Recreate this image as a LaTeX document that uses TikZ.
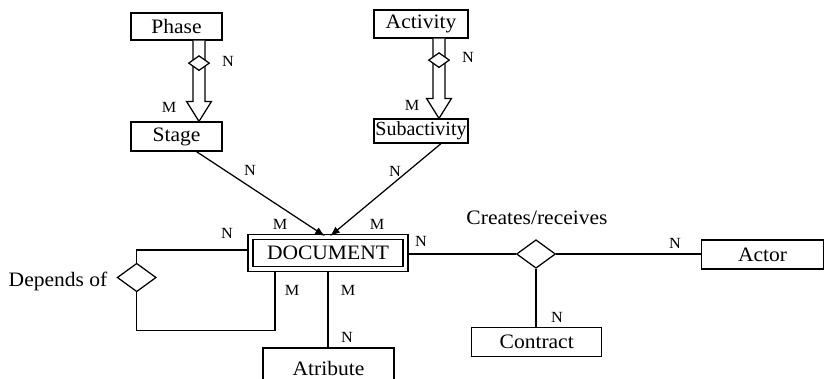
\documentclass[tikz,border=0pt]{standalone}
\usepackage{fontspec}
\setmainfont{Liberation Serif}[FakeStretch=1.05]
\newfontfamily\narrowserif{Liberation Serif}
\usetikzlibrary{shapes.geometric,arrows.meta,calc}
\begin{document}
\begin{tikzpicture}[x=1pt,y=-1pt,line width=1.25pt,
  ent/.style={draw,line width=1.25pt,inner sep=0pt,fill=white,font=\fontsize{20.5}{23}\selectfont},
  rel/.style={draw,diamond,fill=white,line width=1.25pt,inner sep=0pt},
  lbl/.style={inner sep=0pt,font=\fontsize{15.5}{17}\selectfont},
  side/.style={font=\fontsize{20.5}{23}\selectfont,inner sep=0pt},
  arr/.style={-{Latex[length=10pt,width=7.5pt]}},
  fat/.style={draw,fill=white,line width=1.25pt,line join=miter}]
\useasboundingbox (0,0) rectangle (825,378);
\clip (0,0) rectangle (825,378);

% entities
\node[ent,minimum width=91pt,minimum height=27pt] (phase) at (176.5,26.5) {Phase};
\node[ent,minimum width=91pt,minimum height=29pt] (stage) at (176.5,136.5) {Stage};
\node[ent,minimum width=94pt,minimum height=28pt] (activity) at (421,24) {Activity};
\node[ent,minimum width=94pt,minimum height=24pt,font=\narrowserif\fontsize{20}{22}\selectfont] (subact) at (421,131) {Subactivity};
\node[ent,minimum width=160pt,minimum height=36.5pt] (doc) at (328,253) {};
\node[ent,minimum width=150pt,minimum height=26.5pt] (docin) at (doc) {DOCUMENT};
\node[ent,minimum width=131pt,minimum height=40pt] (atr) at (328.5,368) {Atribute};
\node[ent,minimum width=130pt,minimum height=29pt] (contract) at (536.7,342.2) {Contract};
\node[ent,minimum width=121.5pt,minimum height=29pt] (actor) at (762.5,254.5) {Actor};

% relationships
\node[rel,minimum width=39pt,minimum height=28.5pt] (dep) at (136.7,277.5) {};
\node[rel,minimum width=39pt,minimum height=28.5pt] (cr) at (536,254) {};
\node[side,anchor=east] (deplbl) at (108,281) {Depends of};
\node[side] (crlbl) at (537,218) {Creates/receives};

% hollow arrows Phase->Stage and Activity->Subactivity
\path ($(phase.south)+(22.5,0)$) coordinate (pa) ($(stage.north)+(22.5,0)$) coordinate (pb);
\draw[fat] ($(pa)+(-6,0)$) -- ($(pb)+(-6,-20)$) -- ($(pb)+(-12.5,-20)$) -- (pb)
  -- ($(pb)+(12.5,-20)$) -- ($(pb)+(6,-20)$) -- ($(pa)+(6,0)$);
\node[rel,minimum width=21pt,minimum height=15pt] (pd) at ($(pa)+(0,22.5)$) {};
\path ($(activity.south)+(18,0)$) coordinate (aa) ($(subact.north)+(18,0)$) coordinate (ab);
\draw[fat] ($(aa)+(-6,0)$) -- ($(ab)+(-6,-20)$) -- ($(ab)+(-12.5,-20)$) -- (ab)
  -- ($(ab)+(12.5,-20)$) -- ($(ab)+(6,-20)$) -- ($(aa)+(6,0)$);
\node[rel,minimum width=21pt,minimum height=15pt] (ad) at ($(aa)+(0,21.5)$) {};

% connectors to DOCUMENT
\draw[arr] ($(stage.south)+(20,0)$) -- ($(doc.north)+(-3,2)$);
\draw[arr] ($(subact.south)+(20,0)$) -- ($(doc.north)+(2,2)$);

% Depends of loop
\coordinate (l1) at ($(doc.west)+(0,-3)$);
\draw (l1) -- (l1 -| dep.north) -- (dep.north);
\coordinate (l2) at ($(doc.south)+(-53,0)$);
\draw (dep.south) -- (dep.south |- 0,330.7) -- (l2 |- 0,330.7) -- (l2);

% other connectors
\draw (doc.south) -- (doc.south |- atr.north);
\draw (doc.east |- cr.west) -- (cr.west);
\draw (cr.east) -- (actor.west |- cr.east);
\draw (cr.south) -- (cr.south |- contract.north);

% cardinalities
\node[lbl] (c1) at (228,61) {N};
\node[lbl] (c2) at (169,107) {M};
\node[lbl] (c3) at (468,57) {N};
\node[lbl] (c4) at (412,105) {M};
\node[lbl] (c5) at (250,170) {N};
\node[lbl] (c6) at (395,171) {N};
\node[lbl] (c7) at (280,224) {M};
\node[lbl] (c8) at (377,224) {M};
\node[lbl] (c9) at (227,233) {N};
\node[lbl] (c10) at (421,241) {N};
\node[lbl] (c11) at (292,290) {M};
\node[lbl] (c12) at (348,290) {M};
\node[lbl] (c13) at (347,337) {N};
\node[lbl] (c14) at (557,317) {N};
\node[lbl] (c15) at (675,243) {N};
\end{tikzpicture}
\end{document}
